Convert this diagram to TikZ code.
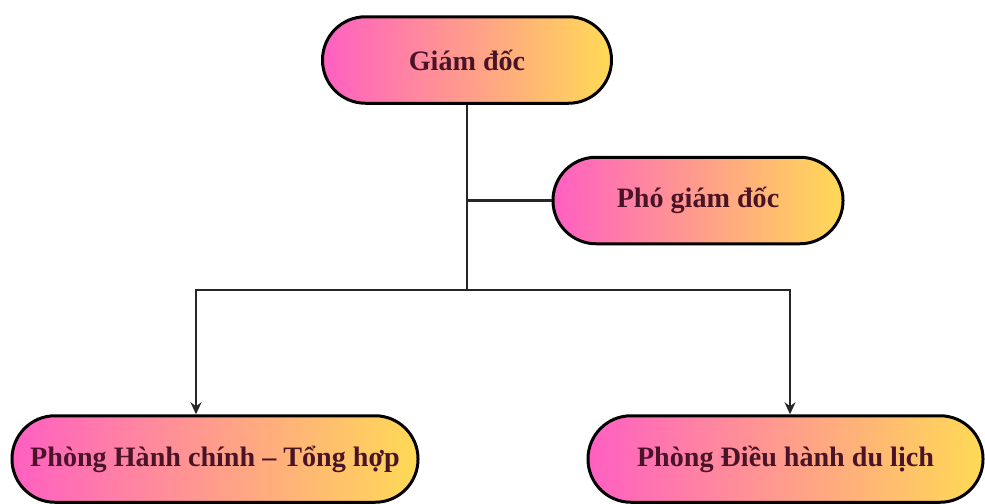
\documentclass[tikz,border=0pt]{standalone}
\usepackage{fontspec}
\setmainfont{Liberation Serif}
\usetikzlibrary{arrows.meta, calc, positioning}
\definecolor{boxPink}{HTML}{FF5FC2}
\definecolor{boxPeach}{HTML}{FFA38C}
\definecolor{boxYellow}{HTML}{FFDA55}
\definecolor{boxText}{HTML}{4A1428}

\begin{document}
\begin{tikzpicture}[
  unit/.style={rounded corners=0.86cm, minimum height=1.73cm, draw=black,
               line width=1.7pt, left color=boxPink, middle color=boxPeach,
               right color=boxYellow, text=boxText, inner xsep=2pt,
               font=\fontsize{16}{19}\selectfont\bfseries},
  link/.style={line width=1.4pt, black!85},
  down/.style={link, -{Stealth[length=2.4mm,width=2.2mm]}}]
  \useasboundingbox (0,0) rectangle (19.7,-10.06);
  \node[unit, minimum width=5.78cm] (GD)  at (9.34,-1.2)  {Giám đốc};
  \node[unit, minimum width=5.8cm]  (PGD) at (13.96,-4.01) {Phó giám đốc};
  \node[unit, minimum width=8.12cm] (HC)  at (4.3,-9.18)  {Phòng Hành chính – Tổng hợp};
  \node[unit, minimum width=7.9cm]  (DH)  at (15.71,-9.18) {Phòng Điều hành du lịch};
  \coordinate (split) at (9.34,-5.8);
  \draw[link] (GD.south) -- (split);
  \draw[link] (PGD.west) -- (PGD.west -| split);
  \draw[down] (split) -| ([xshift=-0.38cm]HC.north);
  \draw[down] (split) -| ([xshift=0.09cm]DH.north);
\end{tikzpicture}
\end{document}
